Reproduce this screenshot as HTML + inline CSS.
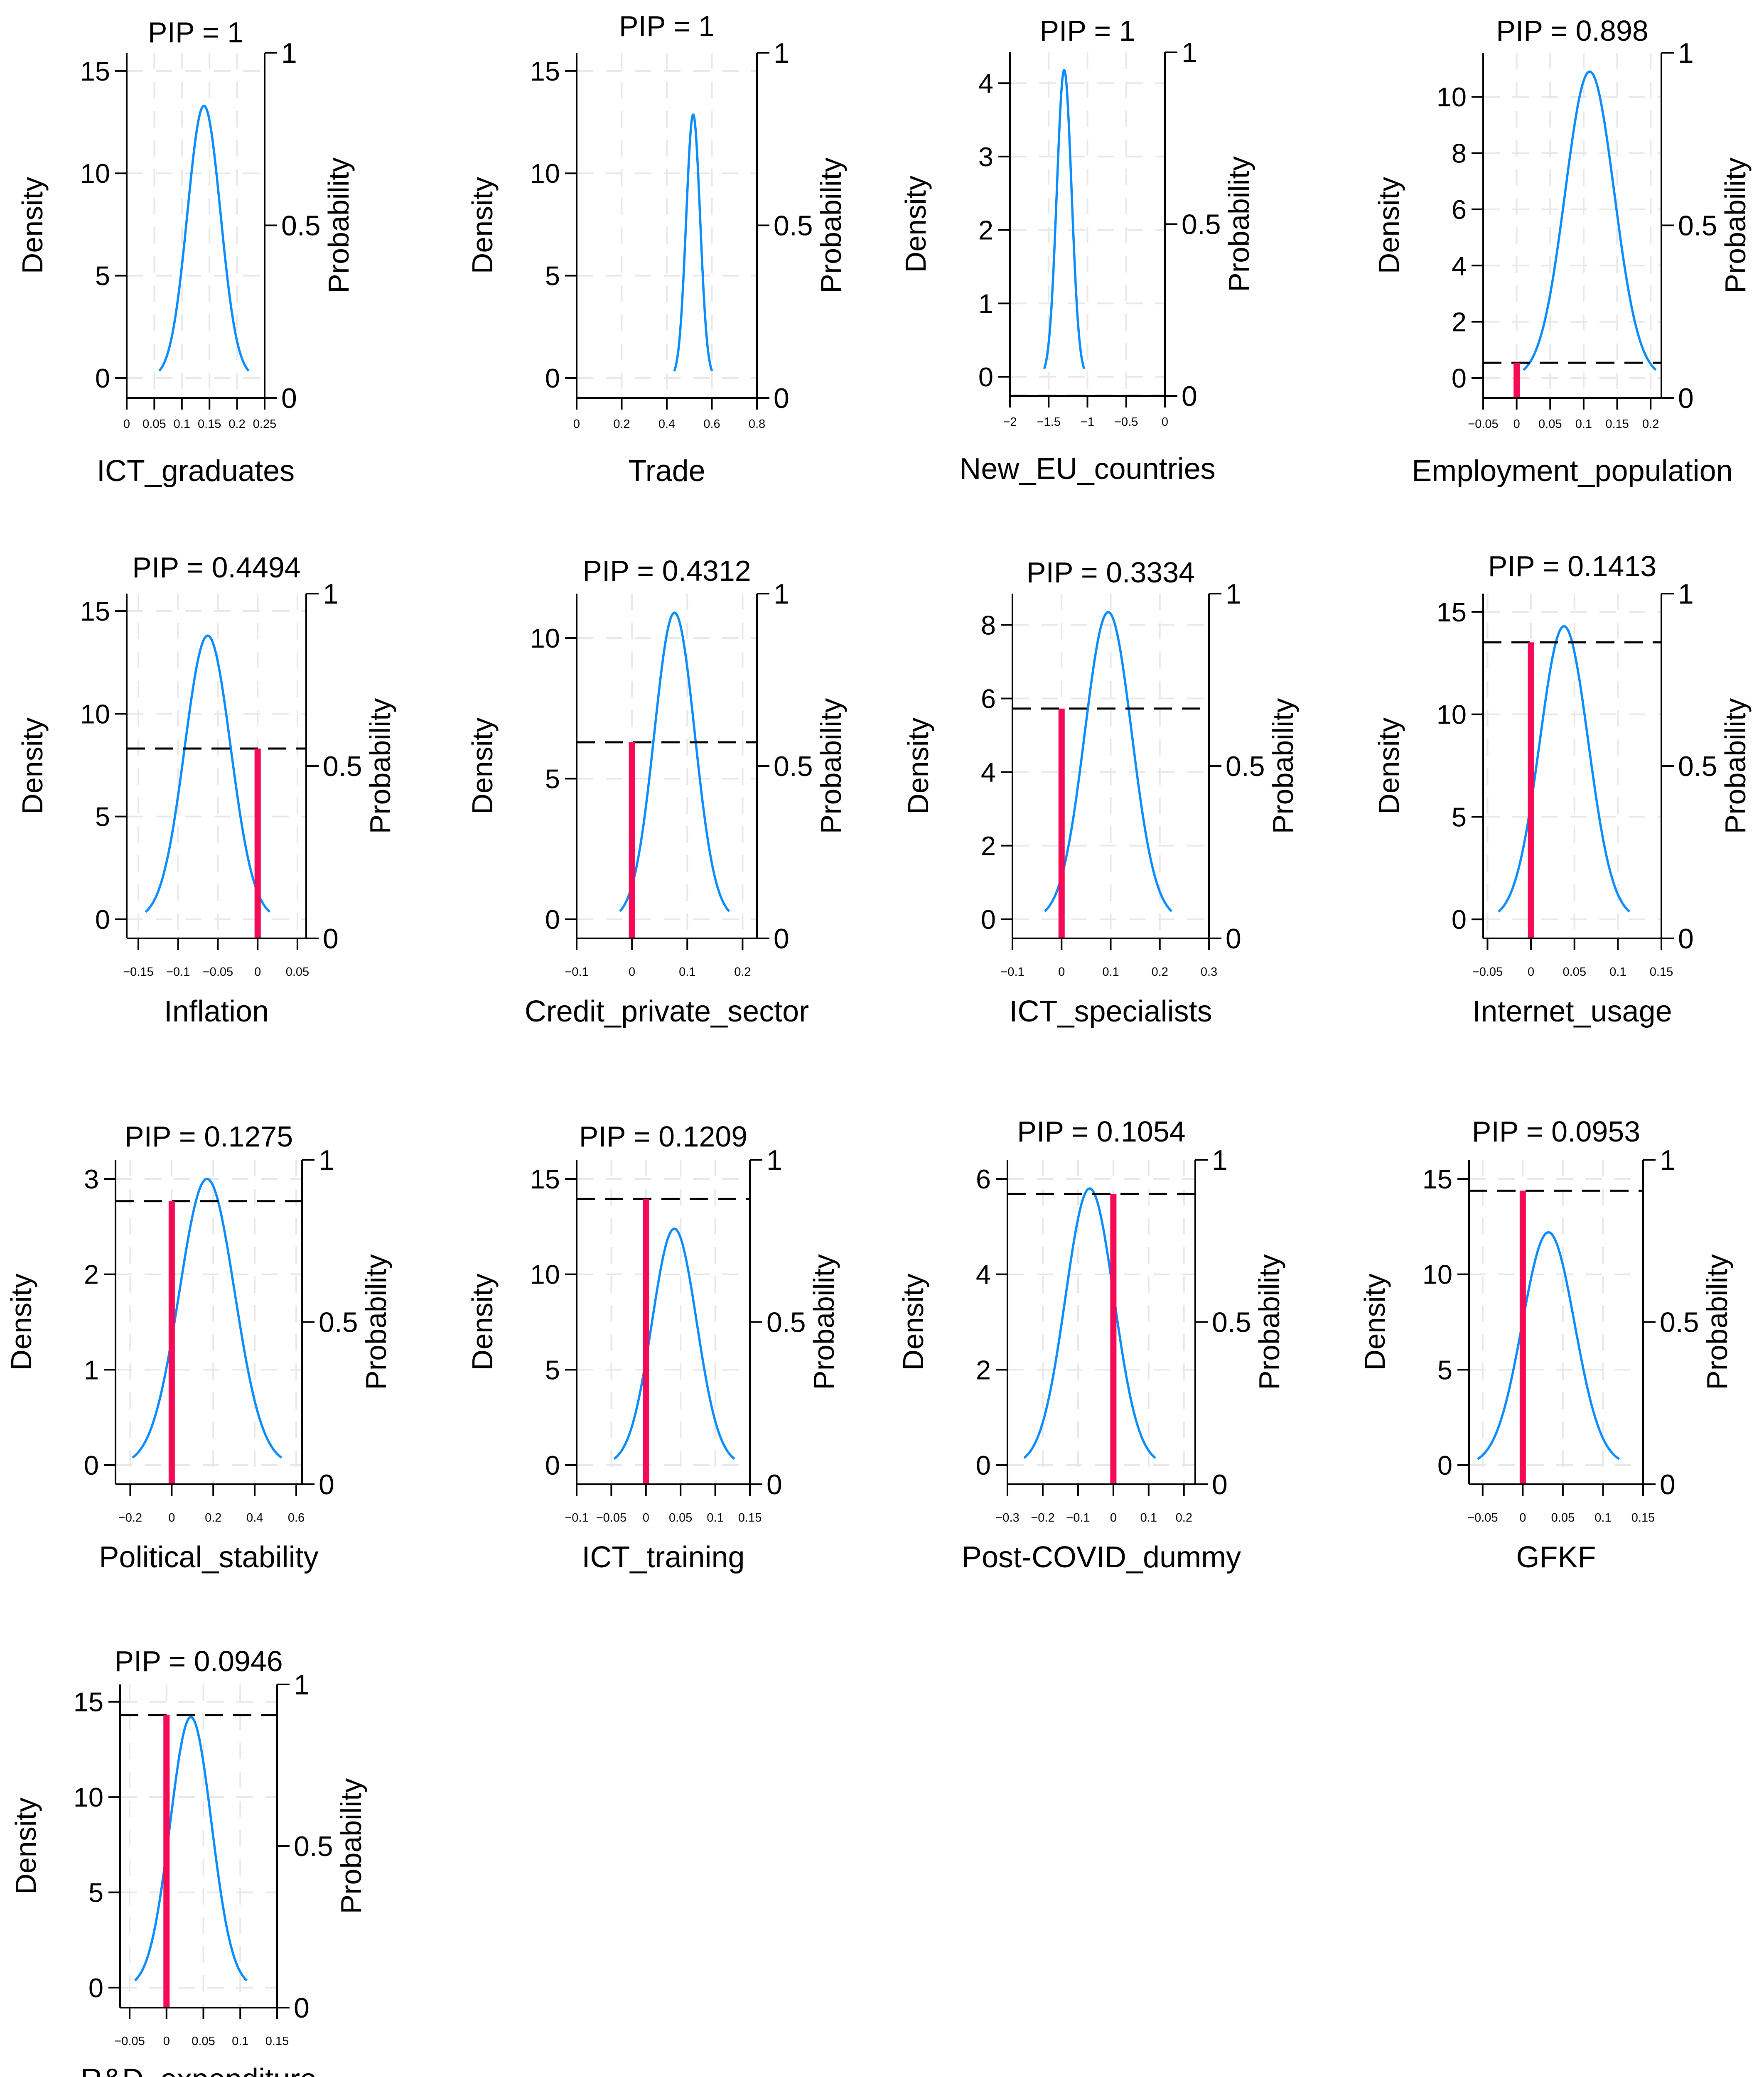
<!DOCTYPE html>
<html><head><meta charset="utf-8"><style>
html,body{margin:0;padding:0;background:#fff;width:4246px;height:5080px;overflow:hidden}
svg{display:block}
text{font-family:"Liberation Sans",Arial,sans-serif;fill:#000}
</style></head><body>
<svg id="fig" width="4246" height="5080" viewBox="0 0 4246 5080" xmlns="http://www.w3.org/2000/svg">
<rect width="4246" height="5080" fill="#fff"/>
</svg>
<script>
// ---- data ----
const variables = ["ICT_graduates","Trade","New_EU_countries","Employment_population","Inflation","Credit_private_sector","ICT_specialists","Internet_usage","Political_stability","ICT_training","Post-COVID_dummy","GFKF","R&D_expenditure"];
const pipValues = [1,1,1,0.898,0.4494,0.4312,0.3334,0.1413,0.1275,0.1209,0.1054,0.0953,0.0946];
const pipLabels = ["1","1","1","0.898","0.4494","0.4312","0.3334","0.1413","0.1275","0.1209","0.1054","0.0953","0.0946"];
const postMeans = [0.14,0.517,-1.30,0.109,-0.0628,0.077,0.095,0.038,0.170,0.041,-0.067,0.032,0.033];
const postSds = [0.030,0.031,0.0955,0.0366,0.0289,0.0366,0.0478,0.0279,0.133,0.0322,0.0688,0.0327,0.0281];
const xLims = [[0,0.25],[0,0.8],[-2,0],[-0.05,0.216],[-0.1646,0.061],[-0.1,0.226],[-0.1,0.3],[-0.055,0.15],[-0.271,0.628],[-0.1,0.15],[-0.3,0.232],[-0.067,0.15],[-0.063,0.15]];
const yLims = [[-0.974,15.89],[-0.974,15.89],[-0.26,4.42],[-0.71,11.57],[-0.93,15.85],[-0.68,11.58],[-0.52,8.85],[-0.93,15.89],[-0.2,3.2],[-1.0,16.0],[-0.4,6.4],[-1.0,16.0],[-1.05,15.91]];
const xTicks = [
 [0,0.05,0.1,0.15,0.2,0.25],[0,0.2,0.4,0.6,0.8],[-2,-1.5,-1,-0.5,0],[-0.05,0,0.05,0.1,0.15,0.2],
 [-0.15,-0.1,-0.05,0,0.05],[-0.1,0,0.1,0.2],[-0.1,0,0.1,0.2,0.3],[-0.05,0,0.05,0.1,0.15],
 [-0.2,0,0.2,0.4,0.6],[-0.1,-0.05,0,0.05,0.1,0.15],[-0.3,-0.2,-0.1,0,0.1,0.2],[-0.05,0,0.05,0.1,0.15],
 [-0.05,0,0.05,0.1,0.15]];
const yTicks = [[0,5,10,15],[0,5,10,15],[0,1,2,3,4],[0,2,4,6,8,10],[0,5,10,15],[0,5,10],[0,2,4,6,8],[0,5,10,15],[0,1,2,3],[0,5,10,15],[0,2,4,6],[0,5,10,15],[0,5,10,15]];
const probTicks = [0,0.5,1];
const probTickLabels = ["0","0.5","1"];
// ---- layout (pixels) ----
const boxes = [
 [305,637,127,958,77],[1388,1822,127,958,62],[2431,2804,126,953,73],[3570,3999,127,958,73],
 [305,737,1429,2259,1365],[1388,1822,1429,2259,1373],[2437,2910,1429,2259,1377],[3570,3999,1429,2259,1362],
 [278,727,2792,3573,2735],[1388,1805,2792,3573,2735],[2425,2877,2792,3573,2723],[3536,3955,2792,3573,2723],
 [289,667,4055,4833,3998]];
const NS="http://www.w3.org/2000/svg";
const svg=document.getElementById('fig');
function mk(tag,attrs,parent){const e=document.createElementNS(NS,tag);for(const k in attrs)e.setAttribute(k,attrs[k]);(parent||svg).appendChild(e);return e;}
function fmt(v){let s=String(+v.toFixed(4));return s.replace('-','\u2212');}
variables.forEach((name,i)=>{
 const [L,R,T,B,TY]=boxes[i];
 const [x0,x1]=xLims[i],[y0,y1]=yLims[i];
 const sx=v=>L+(v-x0)/(x1-x0)*(R-L);
 const sy=v=>B-(v-y0)/(y1-y0)*(B-T);
 const sp=p=>B-p*(B-T);
 const g=mk('g',{});
 
 
 xTicks[i].forEach(t=>{const l=mk('line',{x1:sx(t),x2:sx(t),y1:T,y2:B,stroke:'#e8e8e8','stroke-width':4,'stroke-dasharray':'40 30'},g);
  
  });
 yTicks[i].forEach(t=>{const l=mk('line',{x1:L,x2:R,y1:sy(t),y2:sy(t),stroke:'#e8e8e8','stroke-width':4,'stroke-dasharray':'40 30'},g);
  
  });
 const m=postMeans[i],s=postSds[i];let d='';
 for(let k=0;k<=200;k++){const x=m-2.7*s+5.4*s*k/200;const y=Math.exp(-0.5*((x-m)/s)**2)/(s*Math.sqrt(2*Math.PI));d+=(k?'L':'M')+sx(x).toFixed(1)+','+sy(y).toFixed(1);}
 const c=mk('path',{d:d,fill:'none',stroke:'#0a8cff','stroke-width':5.5},g);
 
 
 const q=1-pipValues[i];
 const dl=mk('line',{x1:L,x2:R,y1:sp(q),y2:sp(q),stroke:'#000','stroke-width':5,'stroke-dasharray':'44 24'},g);
 
 
 if(q>0.001){const rb=mk('line',{x1:sx(0),x2:sx(0),y1:B,y2:sp(q),stroke:'#f50a55','stroke-width':15},g);
  
  }
 const la=mk('line',{x1:L,x2:L,y1:T,y2:B,stroke:'#000','stroke-width':4},g);
 
 
 const ra=mk('line',{x1:R,x2:R,y1:sp(1),y2:sp(0),stroke:'#000','stroke-width':4},g);
 
 
 const ba=mk('line',{x1:L,x2:R+30,y1:B,y2:B,stroke:'#000','stroke-width':4},g);
 
 
 yTicks[i].forEach(t=>{mk('line',{x1:L-28,x2:L,y1:sy(t),y2:sy(t),stroke:'#000','stroke-width':4},g);
  const tx=mk('text',{x:L-40,y:sy(t)+23,'font-size':65,'text-anchor':'end'},g);tx.textContent=fmt(t);
  
  });
 probTicks.forEach((p,j)=>{mk('line',{x1:R,x2:R+30,y1:sp(p),y2:sp(p),stroke:'#000','stroke-width':4},g);
  const tx=mk('text',{x:R+40,y:sp(p)+24,'font-size':68},g);tx.textContent=probTickLabels[j];
  
  });
 const xoff=(i<4)?62:80;
 xTicks[i].forEach(t=>{mk('line',{x1:sx(t),x2:sx(t),y1:B,y2:B+28,stroke:'#000','stroke-width':4},g);
  const tx=mk('text',{x:sx(t),y:B+xoff+10,'font-size':29,'text-anchor':'middle'},g);tx.textContent=fmt(t);
  
  });
 const cx=(L+R)/2, cy=(T+B)/2;
 const ti=mk('text',{x:cx,y:TY+25,'font-size':70,'text-anchor':'middle'},g);ti.textContent='PIP = '+pipLabels[i];
 
 
 const xlY=(i===12)?B+172+25:B+175+25;
 const xl=mk('text',{x:cx,y:xlY,'font-size':72,'text-anchor':'middle'},g);xl.textContent=name;
 
 
 const yl=mk('text',{x:L-227,y:cy,'font-size':70,'text-anchor':'middle',transform:`rotate(-90 ${L-227} ${cy})`,dy:24},g);yl.textContent='Density';
 
 
 const pl=mk('text',{x:R+178,y:cy,'font-size':70,'text-anchor':'middle',transform:`rotate(-90 ${R+178} ${cy})`,dy:24},g);pl.textContent='Probability';
 
 
});
</script>
</body></html>
